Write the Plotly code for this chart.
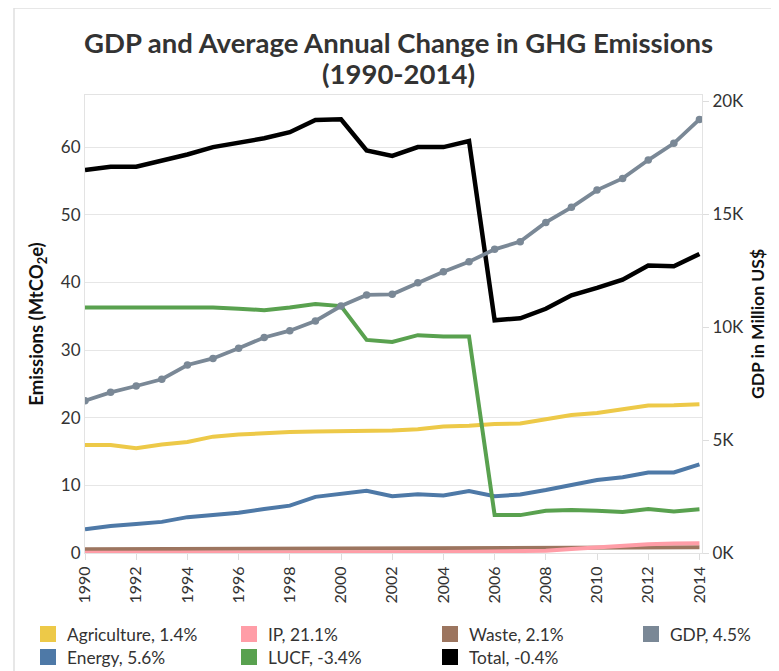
import plotly.graph_objects as go

years = list(range(1990, 2015))

agriculture = [15.95, 15.95, 15.5, 16.05, 16.4, 17.2, 17.5, 17.7, 17.9, 17.95, 18.0, 18.05, 18.1,
               18.3, 18.7, 18.8, 19.05, 19.15, 19.8, 20.4, 20.7, 21.3, 21.8, 21.85, 22.0]
energy = [3.5, 4.0, 4.3, 4.6, 5.3, 5.6, 5.95, 6.5, 7.0, 8.3, 8.8, 9.2, 8.4,
          8.7, 8.5, 9.15, 8.4, 8.65, 9.3, 10.0, 10.8, 11.2, 11.9, 11.9, 13.1]
ip = [0.02, 0.02, 0.03, 0.03, 0.04, 0.05, 0.06, 0.07, 0.08, 0.09, 0.10, 0.10, 0.12,
      0.13, 0.15, 0.17, 0.20, 0.25, 0.35, 0.60, 0.85, 1.10, 1.30, 1.40, 1.45]
lucf = [36.3, 36.3, 36.3, 36.3, 36.3, 36.3, 36.1, 35.9, 36.3, 36.8, 36.5, 31.5, 31.2,
        32.2, 32.0, 32.0, 5.6, 5.6, 6.25, 6.35, 6.25, 6.05, 6.5, 6.15, 6.45]
waste = [0.55, 0.56, 0.57, 0.58, 0.59, 0.60, 0.61, 0.62, 0.63, 0.64, 0.65, 0.66, 0.67,
         0.68, 0.69, 0.70, 0.71, 0.72, 0.73, 0.74, 0.76, 0.78, 0.80, 0.82, 0.84]
total = [56.6, 57.1, 57.1, 58.0, 58.9, 60.0, 60.7, 61.3, 62.2, 64.0, 64.1, 59.5, 58.7,
         60.0, 60.0, 60.9, 34.4, 34.7, 36.1, 38.1, 39.2, 40.4, 42.5, 42.4, 44.2]
gdp = [6740, 7110, 7390, 7690, 8320, 8610, 9060, 9540, 9840, 10270, 10930, 11420, 11450,
       11960, 12450, 12890, 13440, 13780, 14630, 15300, 16060, 16580, 17390, 18130, 19190]

left_ticks = [0, 10, 20, 30, 40, 50, 60]
right_tickvals = [0, 5000, 10000, 15000, 20000]
right_ticktext = ["0K", "5K", "10K", "15K", "20K"]
x_ticks = list(range(1990, 2015, 2))

legend_labels = ["Agriculture, 1.4%", "IP, 21.1%", "Waste, 2.1%", "GDP, 4.5%",
                 "Energy, 5.6%", "LUCF, -3.4%", "Total, -0.4%"]

colors = {
    "Agriculture": "#EDC948",
    "Energy": "#4E79A7",
    "IP": "#FF9DA7",
    "LUCF": "#59A14F",
    "Waste": "#9C755F",
    "GDP": "#7A8896",
    "Total": "#000000",
}

FONT = "Lato, 'Open Sans', sans-serif"
TXT = "#333333"

# The page body adds an 8px margin; lay out in page pixels and shift by it.
OFF = 8
FIG_W, FIG_H = 779 - OFF, 671 - OFF
L, R, T, B = 85 - OFF, 702 - OFF, 95 - OFF, 553 - OFF
W, H = R - L, B - T


def px_x(px):
    return (px - OFF - L) / W


def px_y(py):
    return (B - (py - OFF)) / H


fig = go.Figure()

series = [("Agriculture", agriculture), ("Energy", energy), ("LUCF", lucf),
          ("Waste", waste), ("IP", ip), ("Total", total)]
for name, vals in series:
    fig.add_trace(go.Scatter(x=years, y=vals, mode="lines", name=name,
                             line=dict(color=colors[name], width=4.5 if name == "Total" else 4),
                             showlegend=False, yaxis="y", cliponaxis=False))

fig.add_trace(go.Scatter(x=years, y=gdp, mode="lines+markers", name="GDP",
                         line=dict(color=colors["GDP"], width=3.8),
                         marker=dict(color=colors["GDP"], size=7.5),
                         showlegend=False, yaxis="y2"))

# manual legend: 4 columns x 2 rows (page pixel positions)
col_x = [40, 241, 442, 643]
row_y = [634, 657]
shapes = [dict(type="rect", xref="paper", yref="paper",
               x0=px_x(14), x1=px_x(773), y0=px_y(700), y1=px_y(8),
               line=dict(color="#e0e0e0", width=1.5), layer="below")]
annotations = [
    dict(text="<b>GDP and Average Annual Change in GHG Emissions</b>", xref="paper", yref="paper",
         x=px_x(398), y=px_y(42), xanchor="center", yanchor="middle", showarrow=False,
         font=dict(family=FONT, size=27.5, color=TXT)),
    dict(text="<b>(1990-2014)</b>", xref="paper", yref="paper",
         x=px_x(398), y=px_y(73), xanchor="center", yanchor="middle", showarrow=False,
         font=dict(family=FONT, size=27.5, color=TXT)),
]
for i, lab in enumerate(legend_labels):
    key = lab.split(",")[0]
    cx = col_x[i % 4]
    cy = row_y[i // 4]
    shapes.append(dict(type="rect", xref="paper", yref="paper",
                       x0=px_x(cx), x1=px_x(cx + 16), y0=px_y(cy + 8), y1=px_y(cy - 8),
                       fillcolor=colors[key], line=dict(width=0)))
    annotations.append(dict(text=lab, xref="paper", yref="paper",
                            x=px_x(cx + 25), y=px_y(cy), xanchor="left", yanchor="middle",
                            showarrow=False, font=dict(family=FONT, size=17.3, color=TXT)))

fig.update_layout(
    width=FIG_W, height=FIG_H,
    margin=dict(l=L, r=FIG_W - R, t=T, b=FIG_H - B),
    paper_bgcolor="white", plot_bgcolor="white",
    font=dict(family=FONT, color=TXT, size=15),
    showlegend=False,
    xaxis=dict(range=[1990, 2014.1], tickvals=x_ticks, tickangle=-90,
               showgrid=False, zeroline=False, automargin=False,
               ticks="outside", ticklen=6, tickcolor="#dddddd",
               showline=True, linecolor="#e3e3e3", mirror=True,
               tickfont=dict(size=16, color=TXT)),
    yaxis=dict(range=[0, 67.7], tickvals=left_ticks, automargin=False,
               showgrid=True, gridcolor="#e6e6e6", gridwidth=1, zeroline=False,
               showline=True, linecolor="#e3e3e3", mirror=True,
               ticks="", tickfont=dict(size=17, color=TXT),
               title=dict(text="<b>Emissions (MtCO<sub>2</sub>e)</b>", font=dict(size=18.5, color="#111"),
                          standoff=12)),
    yaxis2=dict(range=[0, 20270], tickvals=right_tickvals, ticktext=right_ticktext,
                overlaying="y", side="right", showgrid=False, zeroline=False, automargin=False,
                ticks="outside", ticklen=6, tickcolor="#dddddd",
                tickfont=dict(size=17, color=TXT),
                title=dict(text="<b>GDP in Million US$</b>", font=dict(size=17.5, color="#111"),
                           standoff=8)),
    shapes=shapes,
    annotations=annotations,
)

fig.write_html("out.html")
